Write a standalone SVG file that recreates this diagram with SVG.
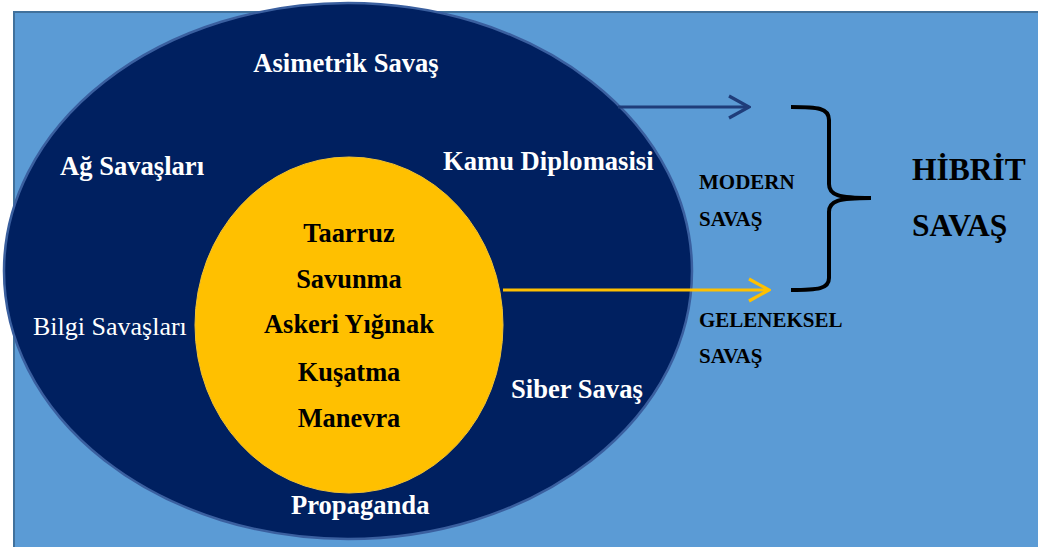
<svg xmlns="http://www.w3.org/2000/svg" width="1038" height="547" viewBox="0 0 1038 547">
<defs>
<style>
.w{font-family:"Liberation Serif","Times New Roman",serif;font-size:26.6px;fill:#ffffff;font-weight:bold}
.wr{font-family:"Liberation Serif","Times New Roman",serif;font-size:26px;fill:#ffffff}
.k{font-family:"Liberation Serif","Times New Roman",serif;font-size:26.4px;fill:#000000;font-weight:bold;text-anchor:middle}
.s{font-family:"Liberation Serif","Times New Roman",serif;font-size:21px;fill:#000000;font-weight:bold}
.h{font-family:"Liberation Serif","Times New Roman",serif;font-size:31.5px;fill:#000000;font-weight:bold}
</style>
<marker id="aBlue" viewBox="0 0 24 26" refX="22" refY="13" markerWidth="24" markerHeight="26" markerUnits="userSpaceOnUse" orient="auto">
<path d="M2,2 L22,13 L2,24" fill="none" stroke="#1F3D7A" stroke-width="3.2"/>
</marker>
<marker id="aYel" viewBox="0 0 24 26" refX="22" refY="13" markerWidth="24" markerHeight="26" markerUnits="userSpaceOnUse" orient="auto">
<path d="M2,2 L22,13 L2,24" fill="none" stroke="#FFC000" stroke-width="3.2"/>
</marker>
</defs>
<rect x="0" y="0" width="1038" height="547" fill="#ffffff"/>
<rect id="background" x="14" y="12" width="1030" height="545" fill="#5B9BD5" stroke="#41719C" stroke-width="2"/>
<g id="outer">
<ellipse cx="348" cy="271" rx="344" ry="268" fill="#002060" stroke="#3A5F9F" stroke-width="2.5"/>
<text class="w" x="346" y="72" text-anchor="middle">Asimetrik Savaş</text>
<text class="w" x="60" y="175">Ağ Savaşları</text>
<text class="w" x="443" y="170">Kamu Diplomasisi</text>
<text class="wr" x="33" y="335">Bilgi Savaşları</text>
<text class="w" x="511" y="398">Siber Savaş</text>
<text class="w" x="291" y="514">Propaganda</text>
</g>
<g id="inner">
<ellipse cx="349" cy="325" rx="154" ry="168" fill="#FFC000" stroke="#F2C230" stroke-width="1"/>
<text class="k" x="349" y="242">Taarruz</text>
<text class="k" x="349" y="288">Savunma</text>
<text class="k" x="349" y="333">Askeri Yığınak</text>
<text class="k" x="349" y="381">Kuşatma</text>
<text class="k" x="349" y="427">Manevra</text>
</g>
<g id="connectors">
<line x1="618" y1="107" x2="749" y2="107" stroke="#1F3D7A" stroke-width="3.2" marker-end="url(#aBlue)"/>
<line x1="503" y1="290" x2="769" y2="290" stroke="#FFC000" stroke-width="3.2" marker-end="url(#aYel)"/>
<path id="brace" d="M791,107 C818,107 829,108 829,120 L829,184 C829,195 838,198 871,198 C838,198 829,201 829,212 L829,278 C829,289 818,290 791,290" fill="none" stroke="#000000" stroke-width="4"/>
</g>
<g id="labels">
<text class="s" x="699" y="189">MODERN</text>
<text class="s" x="699" y="226">SAVAŞ</text>
<text class="s" x="699" y="327">GELENEKSEL</text>
<text class="s" x="699" y="363">SAVAŞ</text>
<text class="h" x="912" y="180">HİBRİT</text>
<text class="h" x="912" y="236">SAVAŞ</text>
</g>
</svg>
